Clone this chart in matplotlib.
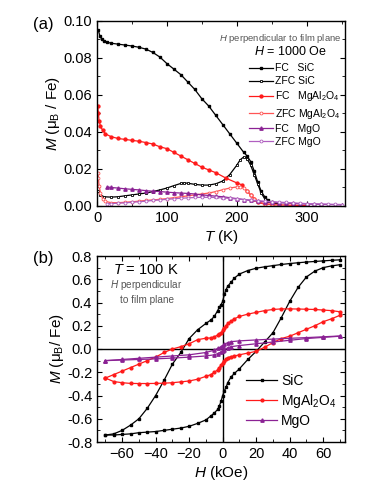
import matplotlib
matplotlib.use("Agg")
import matplotlib.pyplot as plt
from matplotlib.ticker import MultipleLocator

plt.rcParams['font.family'] = ['Liberation Sans', 'DejaVu Sans']
plt.rcParams['mathtext.fontset'] = 'custom'
plt.rcParams['mathtext.rm'] = 'Liberation Sans'
plt.rcParams['mathtext.it'] = 'Liberation Sans:italic'

# ---------------- panel (a) data : M vs T ----------------
T_fc_sic = [2, 4, 7, 10, 15, 20, 30, 40, 50, 60, 70, 80, 90, 100, 110, 120, 130, 140, 150, 160, 170,
            180, 190, 200, 210, 215, 220, 225, 230, 235, 240, 245, 250, 255, 260]
M_fc_sic = [0.095, 0.092, 0.090, 0.089, 0.0885, 0.088, 0.0875, 0.087, 0.0865, 0.0858, 0.0848, 0.0830,
            0.0805, 0.077, 0.074, 0.071, 0.067, 0.063, 0.058, 0.054, 0.049, 0.044, 0.039, 0.034, 0.029,
            0.027, 0.024, 0.019, 0.013, 0.008, 0.005, 0.003, 0.002, 0.0017, 0.0015]

T_zfc_sic = [2, 5, 10, 20, 30, 40, 50, 60, 70, 80, 90, 100, 110, 120, 125, 130, 140, 150, 160, 170, 180,
             190, 200, 205, 210, 215, 220, 225, 230, 235, 240, 245, 250, 260]
M_zfc_sic = [0.008, 0.006, 0.005, 0.0048, 0.005, 0.0055, 0.006, 0.0065, 0.007, 0.0078, 0.0087, 0.0097,
             0.011, 0.0122, 0.0125, 0.0123, 0.0117, 0.0113, 0.0113, 0.012, 0.0135, 0.017, 0.022, 0.025,
             0.0265, 0.0255, 0.022, 0.017, 0.012, 0.007, 0.004, 0.0025, 0.002, 0.0015]

T_fc_mal = [1, 2, 3, 5, 8, 12, 20, 30, 40, 50, 60, 70, 80, 90, 100, 110, 120, 130, 140, 150, 160, 170,
            185, 200, 207, 215, 220, 225, 230, 240, 250, 260, 280, 300]
M_fc_mal = [0.054, 0.050, 0.046, 0.043, 0.041, 0.039, 0.0375, 0.0365, 0.036, 0.0355, 0.035, 0.0343,
            0.0335, 0.032, 0.031, 0.029, 0.027, 0.025, 0.023, 0.021, 0.0195, 0.018, 0.015, 0.0125,
            0.0115, 0.008, 0.006, 0.004, 0.002, 0.001, 0.0008, 0.0006, 0.0004, 0.0003]

T_zfc_mal = [1, 2, 3, 5, 8, 12, 20, 30, 40, 50, 60, 70, 80, 90, 100, 110, 120, 130, 140, 150, 160, 170,
             180, 190, 200, 205, 210, 215, 220, 225, 230, 240, 250, 260]
M_zfc_mal = [0.018, 0.015, 0.011, 0.007, 0.004, 0.0025, 0.0018, 0.0018, 0.002, 0.0023, 0.0026, 0.003,
             0.0033, 0.0036, 0.004, 0.0045, 0.005, 0.0055, 0.006, 0.0065, 0.007, 0.0078, 0.0088, 0.0097,
             0.0103, 0.0105, 0.0095, 0.008, 0.006, 0.004, 0.0025, 0.0012, 0.001, 0.0008]

T_fc_mgo = [15, 20, 30, 40, 50, 60, 70, 80, 90, 100, 110, 120, 130, 140, 150, 160, 170, 180, 190, 200,
            210, 220, 230, 240, 250, 260, 270, 280, 290, 300, 310, 320, 330, 340, 350]
M_fc_mgo = [0.0103, 0.010, 0.0097, 0.0093, 0.009, 0.0087, 0.0083, 0.008, 0.0078, 0.0075, 0.0072, 0.007,
            0.0068, 0.0065, 0.006, 0.0057, 0.0053, 0.005, 0.0045, 0.004, 0.0035, 0.003, 0.0026, 0.0023,
            0.002, 0.0018, 0.0016, 0.0014, 0.0012, 0.0011, 0.001, 0.0009, 0.0008, 0.0007, 0.0006]

T_zfc_mgo = [15, 20, 30, 40, 50, 60, 70, 80, 90, 100, 110, 120, 130, 140, 150, 160, 170, 180, 190, 200,
             210, 220, 230, 240, 250, 260, 270, 280, 290, 300, 310, 320, 330, 340, 350]
M_zfc_mgo = [0.0012, 0.0013, 0.0015, 0.0017, 0.002, 0.0023, 0.0026, 0.003, 0.0033, 0.0036, 0.0039,
             0.0042, 0.0044, 0.0046, 0.0047, 0.0047, 0.0046, 0.0044, 0.0041, 0.0038, 0.0035, 0.0032,
             0.0029, 0.0026, 0.0023, 0.0021, 0.0019, 0.0017, 0.0015, 0.0013, 0.0012, 0.0011, 0.001,
             0.0009, 0.0008]

# ---------------- panel (b) data : M vs H ----------------
H_down = [70, 65, 60, 55, 50, 45, 40, 35, 30, 25, 20, 15, 10, 7, 5, 3, 2, 1, 0, -1, -2, -3, -5, -7, -10,
          -15, -20, -25, -30, -35, -40, -45, -50, -55, -60, -65, -70]
H_up = [-70, -65, -60, -55, -50, -45, -40, -35, -30, -25, -20, -15, -10, -7, -5, -3, -2, -1, 0, 1, 2, 3,
        5, 7, 10, 15, 20, 25, 30, 35, 40, 45, 50, 55, 60, 65, 70]

M_sic_down = [0.767, 0.763, 0.758, 0.753, 0.748, 0.742, 0.735, 0.727, 0.717, 0.707, 0.695, 0.675, 0.645,
              0.61, 0.575, 0.54, 0.51, 0.47, 0.41, 0.38, 0.36, 0.33, 0.28, 0.25, 0.22, 0.165, 0.09,
              -0.03, -0.13, -0.27, -0.40, -0.51, -0.60, -0.655, -0.70, -0.73, -0.74]
M_sic_up = [-0.74, -0.74, -0.735, -0.73, -0.72, -0.715, -0.71, -0.70, -0.69, -0.68, -0.665, -0.64, -0.61,
            -0.575, -0.55, -0.52, -0.49, -0.45, -0.40, -0.36, -0.33, -0.29, -0.24, -0.21, -0.17, -0.09,
            -0.02, 0.06, 0.14, 0.27, 0.41, 0.53, 0.62, 0.67, 0.70, 0.715, 0.725]

M_mal_down = [0.32, 0.33, 0.335, 0.34, 0.342, 0.344, 0.345, 0.345, 0.34, 0.33, 0.315, 0.30, 0.28, 0.26,
              0.24, 0.22, 0.20, 0.18, 0.16, 0.14, 0.13, 0.12, 0.105, 0.095, 0.093, 0.08, 0.045, 0.02,
              0.0, -0.03, -0.07, -0.10, -0.13, -0.16, -0.19, -0.22, -0.25]
M_mal_up = [-0.25, -0.28, -0.29, -0.296, -0.297, -0.297, -0.296, -0.294, -0.29, -0.283, -0.275, -0.26,
            -0.235, -0.22, -0.20, -0.18, -0.16, -0.14, -0.12, -0.10, -0.085, -0.075, -0.065, -0.06,
            -0.05, -0.035, -0.02, 0.015, 0.055, 0.09, 0.11, 0.14, 0.17, 0.20, 0.235, 0.26, 0.29]

H_mgo_down = [70, 60, 50, 40, 30, 20, 10, 5, 3, 1, 0, -1, -3, -5, -10, -20, -30, -40, -50, -60, -70]
M_mgo_down = [0.112, 0.105, 0.098, 0.092, 0.085, 0.078, 0.07, 0.063, 0.055, 0.04, 0.03, 0.02, 0.005,
              -0.01, -0.03, -0.05, -0.06, -0.07, -0.08, -0.09, -0.10]
H_mgo_up = [-70, -60, -50, -40, -30, -20, -10, -5, -3, -1, 0, 1, 3, 5, 10, 20, 30, 40, 50, 60, 70]
M_mgo_up = [-0.10, -0.095, -0.09, -0.085, -0.078, -0.07, -0.06, -0.05, -0.04, -0.025, -0.015, -0.005,
            0.01, 0.02, 0.03, 0.045, 0.06, 0.075, 0.09, 0.10, 0.11]

RED = '#ff1a1a'
LRED = '#ff5555'
PUR = '#8b2294'
LPUR = '#b060c0'

fig = plt.figure(figsize=(3.88, 4.87), dpi=100)
ax1 = fig.add_axes([97/388, 1-206/487, 248/388, 185/487])
ax2 = fig.add_axes([97/388, 1-442/487, 248/388, 186/487])

ms = 2.1
lw = 0.9
ax1.plot(T_fc_sic, M_fc_sic, '-s', color='black', ms=ms, lw=lw, label='FC   SiC')
ax1.plot(T_zfc_sic, M_zfc_sic, '-s', color='black', mfc='white', ms=ms, lw=lw, mew=0.6, label='ZFC SiC')
ax1.plot(T_fc_mal, M_fc_mal, '-o', color=RED, ms=ms, lw=lw, label='FC   MgAl$_2$O$_4$')
ax1.plot(T_zfc_mal, M_zfc_mal, '-o', color=LRED, mfc='white', ms=ms, lw=lw, mew=0.6, label='ZFC MgAl$_2$O$_4$')
ax1.plot(T_fc_mgo, M_fc_mgo, '-^', color=PUR, ms=ms+0.3, lw=lw, label='FC   MgO')
ax1.plot(T_zfc_mgo, M_zfc_mgo, '-o', color=LPUR, mfc='white', ms=ms, lw=lw, mew=0.6, label='ZFC MgO')

ax1.set_xlim(0, 355)
ax1.set_ylim(0, 0.10)
ax1.xaxis.set_major_locator(MultipleLocator(100))
ax1.xaxis.set_minor_locator(MultipleLocator(50))
ax1.yaxis.set_major_locator(MultipleLocator(0.02))
ax1.yaxis.set_minor_locator(MultipleLocator(0.01))
ax1.yaxis.set_major_formatter(matplotlib.ticker.FormatStrFormatter('%.2f'))
ax1.set_xlabel('$T$ (K)', fontsize=11, labelpad=2)
ax1.set_ylabel('$M$ (μ$_\\mathrm{B}$ / Fe)', fontsize=11, labelpad=1)

leg1 = ax1.legend(loc='upper right', bbox_to_anchor=(1.0, 0.80), frameon=False, fontsize=7.5,
                  handlelength=2.3, handletextpad=0.2, labelspacing=0.3, borderaxespad=0.2,
                  borderpad=0.3)
ax1.text(0.985, 0.905, '$H$ perpendicular to film plane', transform=ax1.transAxes, ha='right',
         va='center', fontsize=6.8, color='#555555')
ax1.text(0.78, 0.835, '$H$ = 1000 Oe', transform=ax1.transAxes, ha='center', va='center', fontsize=9)

ax2.axhline(0, color='black', lw=1.0, zorder=1)
ax2.axvline(0, color='black', lw=1.0, zorder=1)
bms = 2.0
ax2.plot(H_down, M_sic_down, '-s', color='black', ms=bms, lw=lw, label='SiC')
ax2.plot(H_up, M_sic_up, '-s', color='black', ms=bms, lw=lw)
ax2.plot(H_down, M_mal_down, '-o', color=RED, ms=bms, lw=lw, label='MgAl$_2$O$_4$')
ax2.plot(H_up, M_mal_up, '-o', color=RED, ms=bms, lw=lw)
ax2.plot(H_mgo_down, M_mgo_down, '-^', color=PUR, ms=bms+0.4, lw=lw, label='MgO')
ax2.plot(H_mgo_up, M_mgo_up, '-^', color=PUR, ms=bms+0.4, lw=lw)

ax2.set_xlim(-75, 73)
ax2.set_ylim(-0.8, 0.8)
ax2.xaxis.set_major_locator(MultipleLocator(20))
ax2.xaxis.set_minor_locator(MultipleLocator(10))
ax2.yaxis.set_major_locator(MultipleLocator(0.2))
ax2.yaxis.set_minor_locator(MultipleLocator(0.1))
ax2.yaxis.set_major_formatter(matplotlib.ticker.FormatStrFormatter('%.1f'))
ax2.set_xlabel('$H$ (kOe)', fontsize=11, labelpad=2)
ax2.set_ylabel('$M$ (μ$_\\mathrm{B}$/ Fe)', fontsize=11, labelpad=1)
ax2.legend(loc='lower right', bbox_to_anchor=(1.0, 0.03), frameon=False, fontsize=10,
           handlelength=2.2, handletextpad=0.3, labelspacing=0.3, borderaxespad=0.2)
ax2.text(0.065, 0.925, '$T$ = 100 K', transform=ax2.transAxes, ha='left', va='center', fontsize=10.5)
ax2.text(0.20, 0.845, '$H$ perpendicular', transform=ax2.transAxes, ha='center',
         va='center', fontsize=7.2, color='#555555')
ax2.text(0.20, 0.765, 'to film plane', transform=ax2.transAxes, ha='center',
         va='center', fontsize=7.2, color='#555555')

for ax in (ax1, ax2):
    ax.tick_params(which='both', direction='in', top=True, right=True, labelsize=10.5)
    ax.tick_params(which='major', length=3.5, width=0.8)
    ax.tick_params(which='minor', length=2, width=0.6)
    for s in ax.spines.values():
        s.set_linewidth(1.0)

fig.text(33/388, 1-25/487, '(a)', fontsize=12, ha='left', va='center')
fig.text(33/388, 1-258/487, '(b)', fontsize=12, ha='left', va='center')

fig.savefig('out.png', dpi=100)
